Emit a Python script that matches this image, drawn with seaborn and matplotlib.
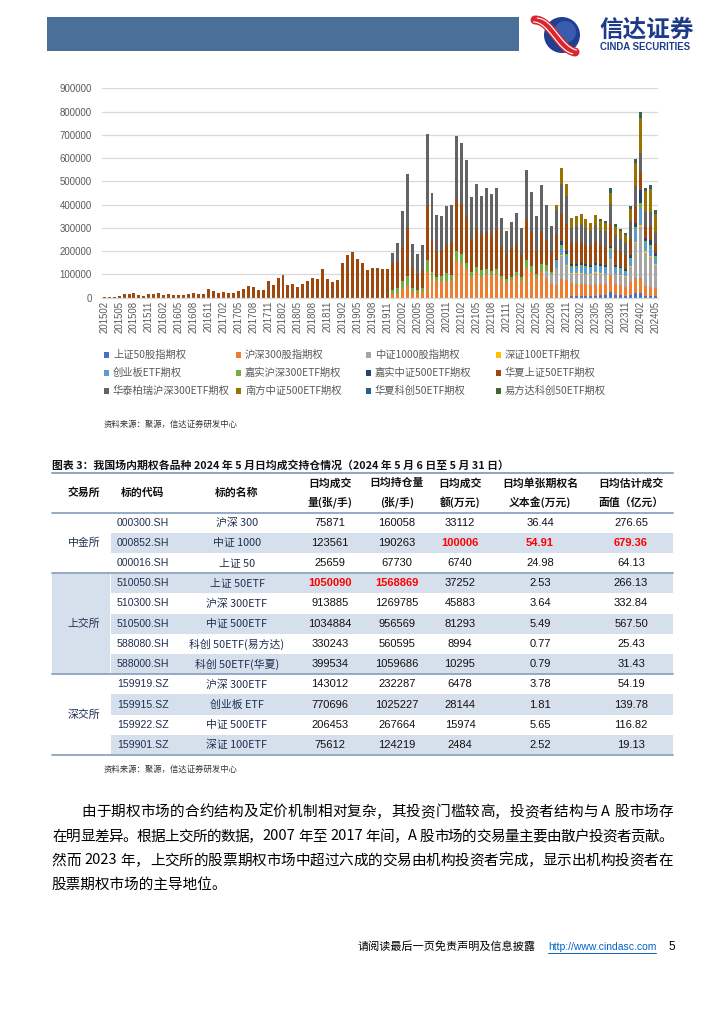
import re
import matplotlib
matplotlib.use('Agg')
import matplotlib.pyplot as plt
from matplotlib.patches import Rectangle, Circle, PathPatch
from matplotlib.path import Path
import pandas as pd
import seaborn as sns

sns.set_theme(style='white')
CJK = ['Noto Sans CJK SC', 'DejaVu Sans']
LAT = 'Liberation Sans'
plt.rcParams['font.family'] = CJK
plt.rcParams['axes.unicode_minus'] = False

# ---------------- chart data: 日均成交额 by month, 201502-202405 ----------------
months = pd.period_range('2015-02', '2024-05', freq='M').strftime('%Y%m').tolist()

sz50_index = [0] * 94 + [7000, 7000, 7000, 7000, 7000, 8000, 9000, 10000, 22000, 10000, 10000,
                         8000, 12000, 18000, 21000, 8000, 7000, 6740]
hs300_index = [0] * 58 + [16000, 18000, 38000, 48000, 24000, 21000, 27000, 111000, 80000, 70000,
                          69000, 73000, 70000, 157000, 150000, 121000, 89000, 104000, 89000, 101000,
                          95000, 102000, 78000, 67000, 74000, 93000, 70000, 128000, 108000, 82000,
                          115000,
                          84000, 57000, 55000, 79000, 75000, 54000, 52000, 51000, 50000, 45000,
                          52000, 50000, 48000, 73000, 50000, 42000, 38000, 55000, 67000, 64000,
                          42000, 38000, 33112]
zz1000_index = [0] * 89 + [32000, 46000, 70000, 100000, 62000, 40000, 42000, 43000, 42000, 45000,
                           45000, 43000, 42000, 66000, 40000, 42000, 42000, 65000, 148000, 220000,
                           143000, 130000, 100006]
sz100_etf = [0] * 91 + [3000, 4000, 3000, 4000, 4000, 4000, 4000, 3000, 4000, 4000, 3000, 5000,
                        3000, 3000, 3000, 4000, 4000, 6000, 5000, 4000, 2484]
cyb_etf = [0] * 91 + [25000, 32000, 35000, 23000, 23000, 28000, 25000, 26000, 25000, 24000, 24000,
                      34000, 24000, 22000, 20000, 28000, 55000, 75000, 38000, 40000, 28144]
js300_etf = [0] * 58 + [15000, 23000, 33000, 46000, 15000, 11000, 14000, 50000, 28000, 20000,
                        24000, 31000, 25000, 43000, 38000, 29000, 22000, 27000, 28000, 22000,
                        19000, 21000, 16000, 14000, 16000, 18000, 20000, 32000, 27000, 20000,
                        29000,
                        24000, 8000, 8000, 12000, 11000, 7000, 7000, 6000, 6000, 6000, 7000,
                        6000, 6000, 11000, 6000, 6000, 5000, 8000, 10000, 21000, 6000, 8000, 6478]
js500_etf = [0] * 91 + [6000, 14000, 12000, 8000, 8000, 8000, 8000, 8000, 8000, 8000, 8000, 12000,
                        8000, 8000, 7000, 11000, 17000, 55000, 15000, 22000, 15974]
hx50_etf = [800, 1500, 4000, 6000, 14000, 15000, 18000, 10000, 8000, 15000, 15000, 19000,
            11000, 15000, 11000, 10000, 11000, 15000, 19000, 15000, 16000, 35000, 29000, 18000,
            22000, 21000, 19000, 26000, 36000, 49000, 44000, 32000, 32000, 70000, 54000, 84000,
            95000, 55000, 57000, 45000, 58000, 70000, 82000, 81000, 122000, 78000, 68000, 74000,
            148000, 184000, 195000, 164000, 148000, 118000, 128000, 127000, 121000, 121000,
            117000, 113000, 142000, 204000, 88000, 70000, 76000, 238000, 139000, 109000,
            113000, 122000, 142000, 225000, 215000, 195000, 139000, 165000, 152000, 160000,
            157000, 171000, 128000, 107000, 125000, 116000, 92000, 173000, 141000, 100000,
            139000,
            109000, 86000, 105000, 117000, 120000, 92000, 92000, 90000, 86000, 80000, 90000,
            80000, 78000, 96000, 67000, 62000, 58000, 68000, 76000, 76000, 47000, 60000, 37252]
ht300_etf = [0] * 58 + [42000, 82000, 160000, 233000, 103000, 86000, 108000, 304000, 201000,
                        157000, 146000, 166000, 163000, 270000, 262000, 246000, 183000, 193000,
                        166000, 189000, 175000, 175000, 119000, 99000, 108000, 135000, 119000,
                        216000, 180000, 147000, 201000,
                        150000, 111000, 104000, 130000, 118000, 66000, 72000, 79000, 70000,
                        66000, 74000, 68000, 68000, 83000, 60000, 57000, 54000, 78000, 86000,
                        85000, 65000, 60000, 45883]
nf500_etf = [0] * 91 + [20000, 71000, 52000, 39000, 43000, 43000, 38000, 33000, 40000, 37000,
                        32000, 48000, 34000, 32000, 33000, 50000, 96000, 148000, 90000, 98000, 81293]
hxkc50_etf = [0] * 100 + [4000, 5000, 12000, 9000, 7000, 6000, 9000, 12000, 16000, 6000, 11000,
                          10295]
efdkc50_etf = [0] * 100 + [3000, 3000, 7000, 5000, 5000, 4000, 5000, 6000, 9000, 4000, 8000, 8994]

series_names = ['上证50股指期权', '沪深300股指期权', '中证1000股指期权', '深证100ETF期权',
                '创业板ETF期权', '嘉实沪深300ETF期权', '嘉实中证500ETF期权', '华夏上证50ETF期权',
                '华泰柏瑞沪深300ETF期权', '南方中证500ETF期权', '华夏科创50ETF期权', '易方达科创50ETF期权']
series_values = [sz50_index, hs300_index, zz1000_index, sz100_etf, cyb_etf, js300_etf,
                 js500_etf, hx50_etf, ht300_etf, nf500_etf, hxkc50_etf, efdkc50_etf]
series_colors = ['#4472C4', '#ED7D31', '#A5A5A5', '#FFC000', '#5B9BD5', '#70AD47',
                 '#264478', '#9E480E', '#636363', '#997300', '#255E91', '#43682B']

# ---------------- table data ----------------
exchanges = ['中金所', '上交所', '深交所']
codes = ['000300.SH', '000852.SH', '000016.SH', '510050.SH', '510300.SH', '510500.SH',
         '588080.SH', '588000.SH', '159919.SZ', '159915.SZ', '159922.SZ', '159901.SZ']
names = ['沪深 300', '中证 1000', '上证 50', '上证 50ETF', '沪深 300ETF', '中证 500ETF',
         '科创 50ETF(易方达)', '科创 50ETF(华夏)', '沪深 300ETF', '创业板 ETF', '中证 500ETF',
         '深证 100ETF']
volume = [75871, 123561, 25659, 1050090, 913885, 1034884, 330243, 399534, 143012, 770696,
          206453, 75612]
open_int = [160058, 190263, 67730, 1568869, 1269785, 956569, 560595, 1059686, 232287, 1025227,
            267664, 124219]
turnover = [33112, 100006, 6740, 37252, 45883, 81293, 8994, 10295, 6478, 28144, 15974, 2484]
notional = [36.44, 54.91, 24.98, 2.53, 3.64, 5.49, 0.77, 0.79, 3.78, 1.81, 5.65, 2.52]
face_value = [276.65, 679.36, 64.13, 266.13, 332.84, 567.50, 25.43, 31.43, 54.19, 139.78,
              116.82, 19.13]
red_cells = {(1, 4), (1, 5), (1, 6), (3, 2), (3, 3)}

paragraph = ['由于期权市场的合约结构及定价机制相对复杂，其投资门槛较高，投资者结构与 A 股市场存',
             '在明显差异。根据上交所的数据，2007 年至 2017 年间，A 股市场的交易量主要由散户投资者贡献。',
             '然而 2023 年，上交所的股票期权市场中超过六成的交易由机构投资者完成，显示出机构投资者在',
             '股票期权市场的主导地位。']

# ---------------- figure ----------------
W, H = 724, 1024
fig = plt.figure(figsize=(W / 100, H / 100), dpi=100)
fig.patch.set_facecolor('white')
page = fig.add_axes([0, 0, 1, 1], zorder=0)
page.set_xlim(0, W)
page.set_ylim(H, 0)
page.axis('off')

# header band and logo
page.add_patch(Rectangle((47, 17), 472, 34, color='#4A7099', lw=0))
page.add_patch(Circle((562, 35), 18, color='#1F3F8F', lw=0))
page.add_patch(Circle((565, 32), 11, color='#3A5BAE', lw=0))
pts = [(535, 20), (551, 20), (559, 49), (575, 52)]
codes_path = [Path.MOVETO, Path.CURVE4, Path.CURVE4, Path.CURVE4]
page.add_patch(PathPatch(Path(pts, codes_path), fc='none', ec='#D9262E', lw=6.5, capstyle='round'))
for off in (-1.9, 1.9):
    s = Path([(x + off, y - off) for x, y in pts], codes_path)
    page.add_patch(PathPatch(s, fc='none', ec='white', lw=0.8))
page.text(599, 29.5, '信达证券', fontsize=17, fontweight='bold', color='#1E3B8A', va='center')
page.text(600, 47.5, 'CINDA SECURITIES', fontsize=6.9, fontweight='bold', color='#1E3B8A',
          va='center', family=LAT)

# ---------------- stacked bar chart ----------------
rows = []
for name, vals in zip(series_names, series_values):
    for i, (m, v) in enumerate(zip(months, vals)):
        rows.append({'pos': i, 'month': m, 'series': name, 'value': v})
df = pd.DataFrame(rows)

ax = fig.add_axes([101.7 / W, 1 - 297.5 / H, 556.3 / W, 209.2 / H], zorder=1)
ax.patch.set_alpha(0)
sns.histplot(data=df, x='pos', weights='value', hue='series', hue_order=series_names[::-1],
             palette=dict(zip(series_names, series_colors)), multiple='stack', discrete=True,
             shrink=0.6, alpha=1, edgecolor='none', linewidth=0, legend=False, ax=ax)

ax.set_xlim(-0.5, len(months) - 0.5)
ax.set_ylim(0, 900000)
ax.set_yticks(range(0, 900001, 100000))
ax.set_yticklabels([str(v) for v in range(0, 900001, 100000)], family=LAT, fontsize=6.9,
                   color='#595959')
ax.set_xticks(range(0, len(months), 3))
ax.set_xticklabels(months[::3], rotation=90, family=LAT, fontsize=6.9, color='#595959')
ax.tick_params(axis='y', length=0, pad=7)
ax.tick_params(axis='x', length=0, pad=2.5)
ax.yaxis.grid(True, color='#D9D9D9', lw=0.9)
ax.set_axisbelow(True)
for side in ['top', 'right', 'left']:
    ax.spines[side].set_visible(False)
ax.spines['bottom'].set_color('#D9D9D9')
ax.spines['bottom'].set_linewidth(0.9)
ax.set_xlabel('')
ax.set_ylabel('')

# legend
leg_x = [104, 236, 366, 496]
leg_y = [355, 373, 391]
for k, (name, col) in enumerate(zip(series_names, series_colors)):
    x, y = leg_x[k % 4], leg_y[k // 4]
    page.add_patch(Rectangle((x, y - 2.6), 5.2, 5.2, color=col, lw=0))
    page.text(x + 9, y, name, fontsize=7.4, color='#595959', va='center')

page.text(104, 424, '资料来源：聚源，信达证券研发中心', fontsize=6, color='#333333', va='center',
          style='italic')

# ---------------- table ----------------
line_c = '#8EA4C4'
shade_c = '#D6E0ED'
L, R = 52, 673
page.text(52, 465, '图表 3：我国场内期权各品种 2024 年 5 月日均成交持仓情况（2024 年 5 月 6 日至 5 月 31 日）',
          fontsize=7.8, fontweight='bold', color='#111111', va='center')
page.plot([L, R], [473.3, 473.3], color=line_c, lw=1.4)

col_x = [84, 143, 237, 330, 397, 460, 540, 631]
head_one = ['交易所', '标的代码', '标的名称']
head_two = [('日均成交', '量(张/手)'), ('日均持仓量', '(张/手)'), ('日均成交', '额(万元)'),
            ('日均单张期权名', '义本金(万元)'), ('日均估计成交', '面值（亿元）')]
for x, t in zip(col_x[:3], head_one):
    page.text(x, 493, t, fontsize=7.8, fontweight='bold', ha='center', va='center', color='#111111')
for x, (t1, t2) in zip(col_x[3:], head_two):
    page.text(x, 483.3, t1, fontsize=7.8, fontweight='bold', ha='center', va='center', color='#111111')
    page.text(x, 502.3, t2, fontsize=7.8, fontweight='bold', ha='center', va='center', color='#111111')

top, pitch = 512.6, 20.2
for k in range(len(codes)):
    if k % 2 == 1:
        page.add_patch(Rectangle((111, top + pitch * k), R - 111, pitch, color=shade_c, lw=0))
page.add_patch(Rectangle((L, top + pitch * 3), 57.5, pitch * 5, color=shade_c, lw=0))

for y in [top, top + pitch * 3, top + pitch * 8, top + pitch * 12]:
    page.plot([L, R], [y, y], color=line_c, lw=1.3)

for k in range(len(codes)):
    y = top + pitch * (k + 0.5)
    page.text(col_x[1], y, codes[k], fontsize=7.6, family=LAT, ha='center', va='center', color='#1F2F50')
    page.text(col_x[2], y, names[k], fontsize=7.8, ha='center', va='center', color='#1F2F50')
    cells = [str(volume[k]), str(open_int[k]), str(turnover[k]), f'{notional[k]:.2f}',
             f'{face_value[k]:.2f}']
    for j, s in enumerate(cells):
        red = (k, j + 2) in red_cells
        page.text(col_x[j + 3], y, s, fontsize=8, family=LAT, ha='center', va='center',
                  color='#FF0000' if red else '#111111', fontweight='bold' if red else 'normal')

for name, center in zip(exchanges, [1.5, 5.5, 10.0]):
    page.text(col_x[0], top + pitch * center, name, fontsize=7.8, ha='center', va='center',
              color='#1F2F50')

page.text(104, 769, '资料来源：聚源，信达证券研发中心', fontsize=6, color='#333333', va='center',
          style='italic')


# ---------------- paragraph ----------------
def justify(y, x0, x1, s, size):
    # spread the glyphs of one line evenly between x0 and x1, keeping extra room at spaces
    tokens = re.findall(r'[A-Za-z0-9]+| |\S', s)
    renderer = fig.canvas.get_renderer()
    space_w = size * 100 / 72 * 0.25
    texts, widths = [], []
    for t in tokens:
        if t == ' ':
            texts.append(None)
            widths.append(space_w)
        else:
            txt = page.text(0, y, t, fontsize=size, va='center', color='#000000')
            texts.append(txt)
            widths.append(txt.get_window_extent(renderer).width)
    n_gaps = sum(1 for t in texts if t is not None) - 1
    gap = (x1 - x0 - sum(widths)) / n_gaps
    x = x0
    for t, w in zip(texts, widths):
        if t is None:
            x += w
            continue
        t.set_x(x)
        x += w + gap


justify(812, 81, 673, paragraph[0], 10.5)
justify(836.5, 52, 673, paragraph[1], 10.5)
justify(860.5, 52, 673, paragraph[2], 10.5)
page.text(52, 884.5, paragraph[3], fontsize=10.5, va='center', color='#000000')

# ---------------- footer ----------------
page.text(358, 947, '请阅读最后一页免责声明及信息披露', fontsize=8, va='center', color='#000000')
page.text(548, 947, 'http://www.cindasc.com', fontsize=7.5, family=LAT, va='center', color='#0563C1')
page.plot([548, 656], [952.5, 952.5], color='#0563C1', lw=0.7)
page.text(668, 947, '5', fontsize=8.5, family=LAT, va='center', color='#000000')

fig.savefig('out.png', dpi=100, facecolor='white')
